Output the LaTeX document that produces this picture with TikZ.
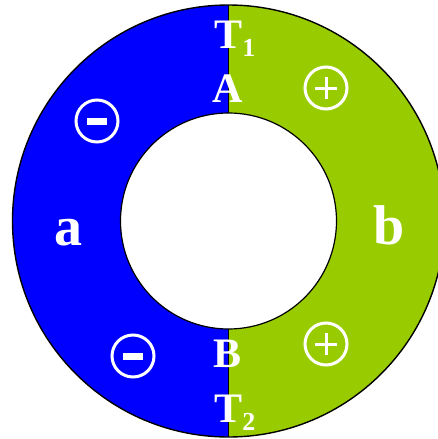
\documentclass[tikz,border=0pt]{standalone}
\usepackage{fontspec}
\setmainfont{Liberation Serif}
\usetikzlibrary{calc}
\definecolor{ringblue}{RGB}{0,0,255}
\definecolor{ringgreen}{RGB}{153,204,0}
\tikzset{
  sign/.style={circle,draw=white,line width=3pt,minimum size=42pt,inner sep=0pt},
  bigtext/.style={text=white,font=\bfseries\fontsize{42}{42}\selectfont,inner sep=0pt,anchor=base},
  sidetext/.style={text=white,font=\bfseries\fontsize{56}{56}\selectfont,inner sep=0pt,anchor=base},
}
\begin{document}
\begin{tikzpicture}[x=1pt,y=1pt,yscale=-1,xscale=1]
	\useasboundingbox (0,0) rectangle (438,439);
	\clip (0,0) rectangle (438,439);
	\coordinate (ctr) at (228.5,221);
	
	%Shape: Half ring, left
	\begin{scope}
		\clip (0,0) rectangle (228.5,439);
		\fill [ringblue,even odd rule] (ctr) circle [radius=216] (ctr) circle [radius=108];
	\end{scope}
	%Shape: Half ring, right
	\begin{scope}
		\clip (228.5,0) rectangle (460,439);
		\fill [ringgreen,even odd rule] (ctr) circle [radius=216] (ctr) circle [radius=108];
	\end{scope}
	
	%Shape: Circles
	\draw [line width=1.4pt] (ctr) circle [radius=216];
	\draw [line width=1.2pt] (ctr) circle [radius=108];
	
	%Straight Lines
	\coordinate (topout) at (228.5,5);
	\coordinate (topin) at (228.5,113);
	\coordinate (botin) at (228.5,329);
	\coordinate (botout) at (228.5,437);
	\draw [line width=1.6pt] (topout) -- (topin);
	\draw [line width=1.6pt] (botin) -- (botout);
	
	%Shape: Signs
	\node [sign] (minusA) at (97,121) {};
	\fill [white] ($(minusA)+(-10,-3.5)$) rectangle ($(minusA)+(10,3.5)$);
	\node [sign] (minusB) at (133,356) {};
	\fill [white] ($(minusB)+(-10,-3.5)$) rectangle ($(minusB)+(10,3.5)$);
	\node [sign] (plusA) at (326,88) {};
	\draw [white,line width=3pt] ($(plusA)+(-11,0)$) -- ($(plusA)+(11,0)$) ($(plusA)+(0,-11)$) -- ($(plusA)+(0,11)$);
	\node [sign] (plusB) at (326,344) {};
	\draw [white,line width=3pt] ($(plusB)+(-11,0)$) -- ($(plusB)+(11,0)$) ($(plusB)+(0,-11)$) -- ($(plusB)+(0,11)$);
	
	% Text Node
	\node [bigtext] (tone) at (235,48) {T\textsubscript{\fontsize{26}{26}\selectfont 1}};
	% Text Node
	\node [bigtext] (pa) at (228,102) {A};
	% Text Node
	\node [bigtext] (pb) at (228,367) {B};
	% Text Node
	\node [bigtext] (ttwo) at (235,422) {T\textsubscript{\fontsize{26}{26}\selectfont 2}};
	% Text Node
	\node [sidetext] (la) at (68,245) {a};
	% Text Node
	\node [sidetext] (lb) at (389,244) {b};
\end{tikzpicture}
\end{document}
